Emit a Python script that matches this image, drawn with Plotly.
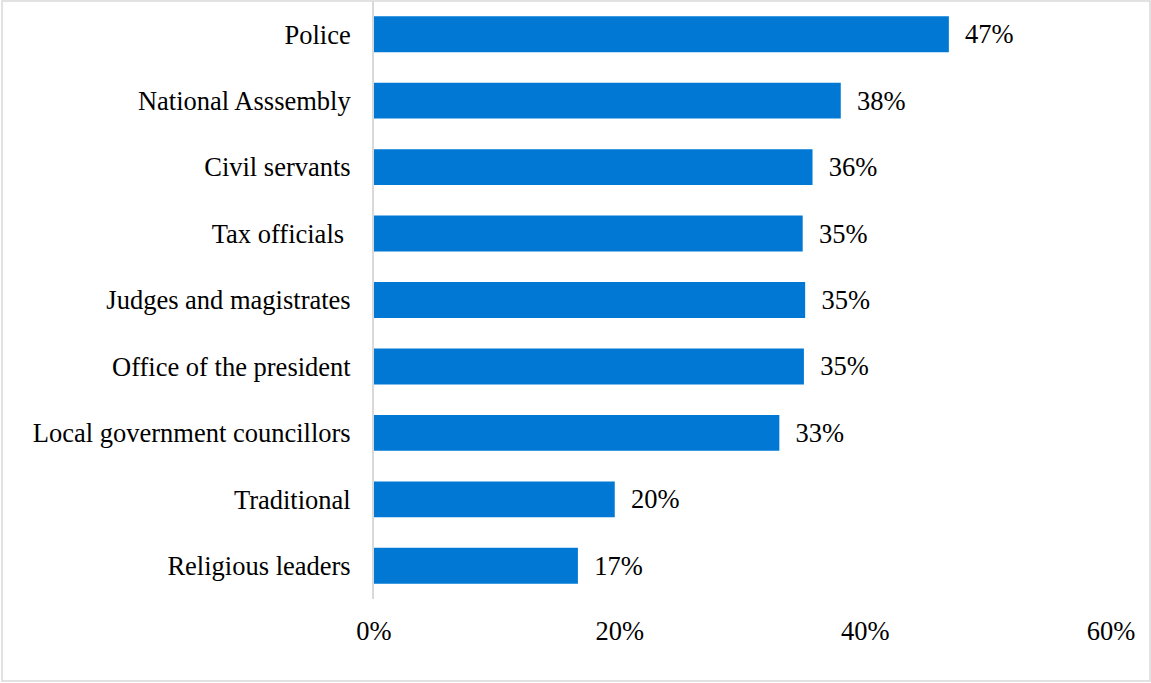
import plotly.graph_objects as go

categories = ["Police", "National Asssembly", "Civil servants", "Tax officials ",
              "Judges and magistrates", "Office of the president",
              "Local government councillors", "Traditional", "Religious leaders"]
values = [46.8, 38.0, 35.7, 34.9, 35.1, 35.0, 33.0, 19.6, 16.6]
tick_vals = [0, 20, 40, 60]
tick_text = ["0%", "20%", "40%", "60%"]

W, H = 1151, 683
ml, mr, mt, mb = 374, 40, 1, 84
FONT = "Liberation Serif, Times New Roman, serif"
FS = 26.5

fig = go.Figure(go.Bar(
    x=values, y=categories, orientation="h",
    marker=dict(color="#0078d4", line=dict(width=0)),
    texttemplate="\u00a0\u00a0%{x:.0f}%", textposition="outside",
    textfont=dict(family=FONT, size=FS, color="#000000"),
    cliponaxis=False,
))

pw = W - ml - mr
ph = H - mt - mb
fig.add_shape(type="rect", xref="paper", yref="paper",
              x0=(2 - ml) / pw, x1=(W - 1 - ml) / pw,
              y0=-(H - 2 - mt - ph) / ph, y1=(mt - 1) / ph + 1,
              line=dict(color="#d9d9d9", width=1.5), layer="below")

fig.update_layout(
    width=W, height=H,
    margin=dict(l=ml, r=mr, t=mt, b=mb),
    paper_bgcolor="white", plot_bgcolor="white",
    bargap=0.46, showlegend=False,
    font=dict(family=FONT, size=FS, color="#000000"),
    xaxis=dict(range=[0, 60], tickvals=tick_vals, ticktext=tick_text,
               showgrid=False, zeroline=False, showline=False,
               ticks="outside", ticklen=8, tickcolor="rgba(0,0,0,0)"),
    yaxis=dict(autorange="reversed", showgrid=False, zeroline=False,
               showline=True, linecolor="#d9d9d9", linewidth=2,
               ticks="outside", ticklen=16, tickcolor="rgba(0,0,0,0)"),
)

fig.write_html("out.html")
